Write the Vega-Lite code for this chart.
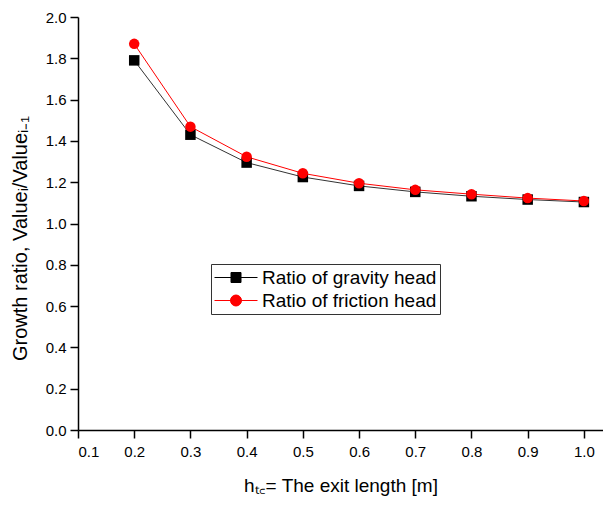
{
  "$schema": "https://vega.github.io/schema/vega-lite/v6.json",
  "autosize": {"type": "none"},
  "padding": {"left": 78, "top": 17, "right": 0, "bottom": 75},
  "width": 525,
  "height": 413,
  "background": "white",
  "config": {
    "font": "Liberation Sans",
    "view": {"stroke": null},
    "axis": {
      "domainColor": "black",
      "domainWidth": 1.5,
      "tickColor": "black",
      "tickWidth": 1.5,
      "tickSize": 8,
      "grid": false,
      "labelFont": "Liberation Sans",
      "labelFontSize": 15,
      "labelColor": "black",
      "titleFont": "Liberation Sans",
      "titleFontSize": 19,
      "titleFontWeight": "normal",
      "titleColor": "black"
    }
  },
  "data": {
    "values": [
      {"x": 0.2, "y": 1.79, "series": "Ratio of gravity head"},
      {"x": 0.3, "y": 1.43, "series": "Ratio of gravity head"},
      {"x": 0.4, "y": 1.295, "series": "Ratio of gravity head"},
      {"x": 0.5, "y": 1.225, "series": "Ratio of gravity head"},
      {"x": 0.6, "y": 1.182, "series": "Ratio of gravity head"},
      {"x": 0.7, "y": 1.153, "series": "Ratio of gravity head"},
      {"x": 0.8, "y": 1.132, "series": "Ratio of gravity head"},
      {"x": 0.9, "y": 1.116, "series": "Ratio of gravity head"},
      {"x": 1.0, "y": 1.104, "series": "Ratio of gravity head"},
      {"x": 0.2, "y": 1.87, "series": "Ratio of friction head"},
      {"x": 0.3, "y": 1.469, "series": "Ratio of friction head"},
      {"x": 0.4, "y": 1.323, "series": "Ratio of friction head"},
      {"x": 0.5, "y": 1.243, "series": "Ratio of friction head"},
      {"x": 0.6, "y": 1.195, "series": "Ratio of friction head"},
      {"x": 0.7, "y": 1.163, "series": "Ratio of friction head"},
      {"x": 0.8, "y": 1.142, "series": "Ratio of friction head"},
      {"x": 0.9, "y": 1.123, "series": "Ratio of friction head"},
      {"x": 1.0, "y": 1.109, "series": "Ratio of friction head"}
    ]
  },
  "encoding": {
    "x": {
      "field": "x", "type": "quantitative",
      "scale": {"domain": [0.1, 1.034], "nice": false, "zero": false},
      "axis": {"values": [0.1,0.2,0.3,0.4,0.5,0.6,0.7,0.8,0.9,1.0], "format": ".1f", "title": "hₜ꜀= The exit length [m]", "labelPadding": 6, "titlePadding": 17}
    },
    "y": {
      "field": "y", "type": "quantitative",
      "scale": {"domain": [0, 2], "nice": false},
      "axis": {"values": [0,0.2,0.4,0.6,0.8,1.0,1.2,1.4,1.6,1.8,2.0], "format": ".1f", "title": "Growth ratio, Valueᵢ/Valueᵢ₋₁", "labelPadding": 4, "titleX": -52, "titleY": 221, "titleAngle": -90, "titleAlign": "center", "titleBaseline": "alphabetic", "titleFontSize": 20}
    }
  },
  "layer": [
    {
      "mark": {"type": "line", "strokeWidth": 1},
      "encoding": {
        "color": {"field": "series", "type": "nominal",
          "scale": {"domain": ["Ratio of gravity head", "Ratio of friction head"], "range": ["#333333", "#ff0000"]},
          "legend": null}
      }
    },
    {
      "mark": {"type": "point", "filled": true, "opacity": 1},
      "encoding": {
        "color": {"field": "series", "type": "nominal",
          "scale": {"domain": ["Ratio of gravity head", "Ratio of friction head"], "range": ["#000000", "#ff0000"]},
          "legend": null},
        "shape": {"field": "series", "type": "nominal",
          "scale": {"domain": ["Ratio of gravity head", "Ratio of friction head"], "range": ["square", "circle"]},
          "legend": null},
        "size": {"value": 110}
      }
    },
    {
      "mark": {"type": "point", "filled": true, "opacity": 0},
      "encoding": {
        "color": {"field": "series", "type": "nominal",
          "scale": {"domain": ["Ratio of gravity head", "Ratio of friction head"], "range": ["#000000", "#ff0000"]},
          "legend": {
            "title": null,
            "orient": "none",
            "legendX": 133,
            "legendY": 247,
            "direction": "vertical",
            "strokeColor": "#333333",
            "fillColor": "white",
            "padding": 3,
            "labelFont": "Liberation Sans",
            "labelFontSize": 19,
            "labelColor": "black",
            "labelLimit": 400,
            "labelOffset": 27,
            "symbolSize": 400,
            "symbolOpacity": 1,
            "rowPadding": 2,
            "encode": {
              "symbols": {"update": {
                "opacity": {"value": 1},
                "fillOpacity": {"value": 1},
                "strokeOpacity": {"value": 1},
                "strokeWidth": {"value": 1},
                "stroke": {"signal": "datum.value === 'Ratio of gravity head' ? '#000000' : '#ff0000'"},
                "fill": {"signal": "datum.value === 'Ratio of gravity head' ? '#000000' : '#ff0000'"}
              }}
            }
          }
        },
        "shape": {"field": "series", "type": "nominal",
          "scale": {"domain": ["Ratio of gravity head", "Ratio of friction head"], "range": ["M-1,0H3.3M0.65,-0.5H1.65V0.5H0.65Z", "M-1,0H3.3M1.7,0A0.55,0.55,0,1,1,0.6,0A0.55,0.55,0,1,1,1.7,0Z"]}
        }
      }
    }
  ],
  "resolve": {"scale": {"color": "independent", "shape": "independent"}}
}
